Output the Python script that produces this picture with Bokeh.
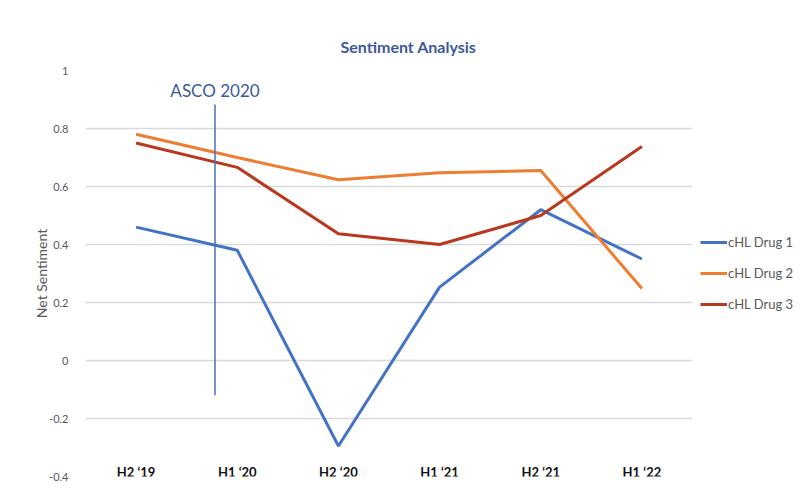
from bokeh.plotting import figure
from bokeh.models import Legend, LegendItem, FixedTicker, Grid, ColumnDataSource
from bokeh.core.properties import value
from bokeh.embed import file_html
from bokeh.resources import INLINE

periods = ["H2 \u201819", "H1 \u201820", "H2 \u201820", "H1 \u201821", "H2 \u201821", "H1 \u201822"]
drug1 = [0.46, 0.38, -0.295, 0.253, 0.52, 0.35]
drug2 = [0.78, 0.70, 0.623, 0.647, 0.655, 0.248]
drug3 = [0.75, 0.666, 0.437, 0.40, 0.50, 0.738]
series_names = ["cHL Drug 1", "cHL Drug 2", "cHL Drug 3"]
series_colors = ["#4472C4", "#ED7D31", "#B8391F"]
y_ticks = [-0.4, -0.2, 0, 0.2, 0.4, 0.6, 0.8, 1]
y_tick_labels = ["-0.4", "-0.2", "0", "0.2", "0.4", "0.6", "0.8", "1"]
event_label = "ASCO 2020"
event_x = ("H1 \u201820", -0.22)
event_y = [-0.12, 0.883]

FONT = "Lato"

p = figure(frame_width=607, frame_height=406, x_range=periods, y_range=(-0.4, 1.0),
           output_backend="svg", toolbar_location=None,
           min_border_left=85, min_border_right=108, min_border_top=70, min_border_bottom=24)
p.outline_line_color = None
p.background_fill_color = "white"
p.border_fill_color = "white"

p.title.text = "Sentiment Analysis"
p.title.align = "left"
p.title.offset = 255
p.title.text_font = FONT
p.title.text_font_size = "16px"
p.title.text_font_style = "bold"
p.title.text_color = "#3C5A9A"
p.title.standoff = 30

p.xgrid.visible = False
p.ygrid.visible = False
p.xaxis.visible = False
g = Grid(dimension=1, ticker=FixedTicker(ticks=[t for t in y_ticks if t > -0.4]),
         grid_line_color="#D9D9D9", grid_line_width=1.5)
p.add_layout(g)

ya = p.yaxis[0]
ya.ticker = FixedTicker(ticks=y_ticks)
ya.major_label_overrides = {t: s for t, s in zip(y_ticks, y_tick_labels)}
ya.axis_line_color = None
ya.major_tick_line_color = None
ya.minor_tick_line_color = None
ya.major_label_text_font = FONT
ya.major_label_text_font_size = "11px"
ya.major_label_text_color = "#595959"
ya.major_label_standoff = 11
ya.axis_label = "Net Sentiment"
ya.axis_label_text_font = FONT
ya.axis_label_text_font_size = "14px"
ya.axis_label_text_font_style = "normal"
ya.axis_label_text_color = "#595959"
ya.axis_label_standoff = -4

renderers = []
for name, vals, col in zip(series_names, [drug1, drug2, drug3], series_colors):
    r = p.line(periods, vals, line_color=col, line_width=3)
    renderers.append((name, r))

# category labels drawn inside the plot area
src = ColumnDataSource(dict(x=periods, y=[-0.383] * len(periods), t=periods))
p.text(x="x", y="y", text="t", source=src, text_font=value(FONT), text_font_size="13px",
       text_font_style="bold", text_color="#111111", text_align="center", text_baseline="middle")

# event marker
p.segment(x0=[event_x], y0=[event_y[0]], x1=[event_x], y1=[event_y[1]],
          line_color="#4A6FB5", line_width=1.5)
p.text(x=[event_x], y=[event_y[1]], text=[event_label], text_font=value(FONT),
       text_font_size="17px", text_color="#3C5A9A", text_align="center",
       text_baseline="bottom", y_offset=-3)

legend = Legend(items=[LegendItem(label=n, renderers=[r]) for n, r in renderers],
                location="center_left", orientation="vertical",
                label_text_font=FONT, label_text_font_size="13px", label_text_color="#595959",
                glyph_width=27, glyph_height=20, spacing=11, padding=0, margin=8,
                label_standoff=1, border_line_color=None, background_fill_alpha=0)
p.add_layout(legend, "right")

open("out.html", "w").write(file_html(p, INLINE))
